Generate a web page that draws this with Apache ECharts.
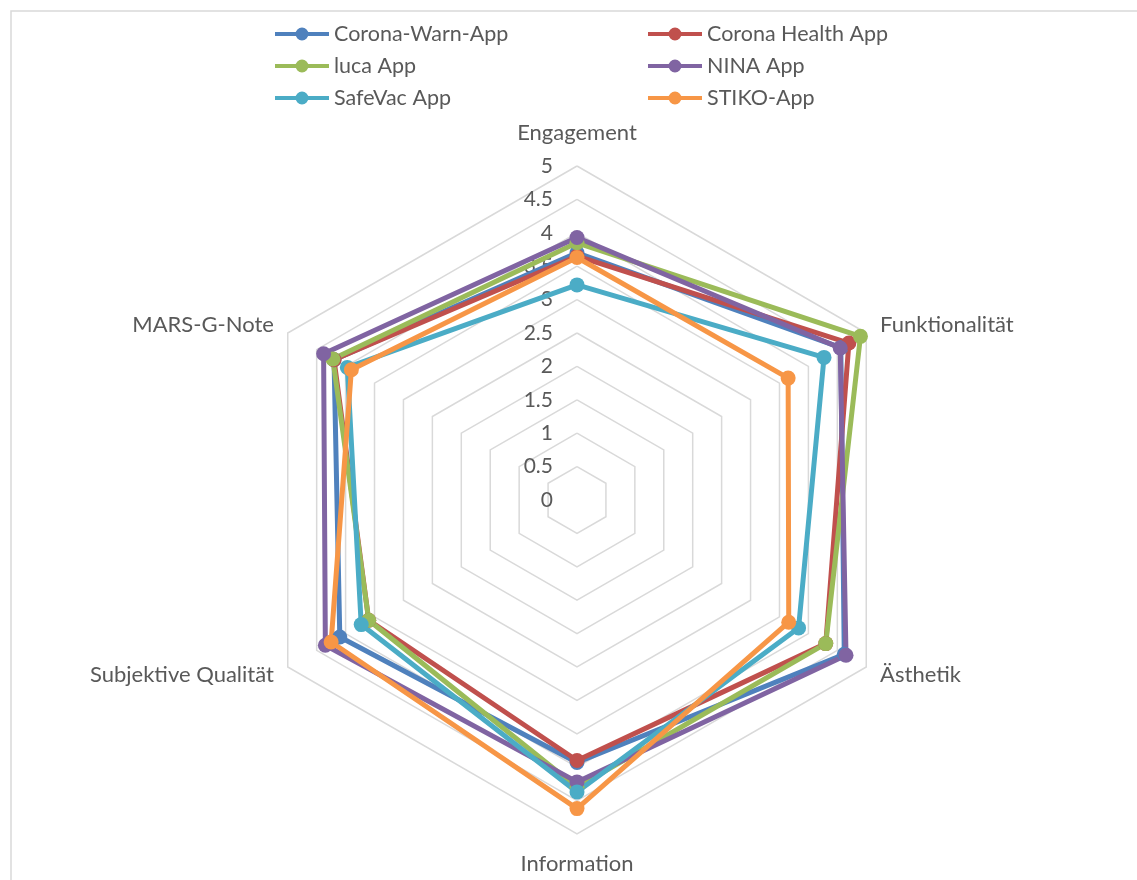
<!DOCTYPE html>
<html>
<head>
<meta charset="utf-8">
<script src="https://cdn.jsdelivr.net/npm/echarts@6/dist/echarts.min.js"></script>
<style>
  html, body { margin: 0; padding: 0; background: #ffffff; }
  #chart { width: 1137px; height: 880px; }
</style>
</head>
<body>
<div id="chart"></div>
<script>
// Categories in the reference's clockwise order, starting at the top
const categories = ['Engagement', 'Funktionalität', 'Ästhetik', 'Information', 'Subjektive Qualität', 'MARS-G-Note'];
// Radial axis scale (tick labels 0 … 5 in steps of 0.5)
const axisMin = 0;
const axisMax = 5;
const axisSplits = 10;

const seriesNames = ['Corona-Warn-App', 'Corona Health App', 'luca App', 'NINA App', 'SafeVac App', 'STIKO-App'];
const coronaWarnApp   = [3.70, 4.56, 4.62, 3.93, 4.10, 4.20];
const coronaHealthApp = [3.65, 4.70, 4.30, 3.90, 3.60, 4.20];
const lucaApp         = [3.85, 4.90, 4.30, 4.30, 3.60, 4.22];
const ninaApp         = [3.93, 4.55, 4.65, 4.22, 4.35, 4.38];
const safeVacApp      = [3.22, 4.27, 3.83, 4.37, 3.73, 3.97];
const stikoApp        = [3.63, 3.65, 3.66, 4.62, 4.25, 3.90];
const seriesValues = [coronaWarnApp, coronaHealthApp, lucaApp, ninaApp, safeVacApp, stikoApp];
const seriesColors = ['#4F81BD', '#C0504D', '#9BBB59', '#8064A2', '#4BACC6', '#F79646'];

// ECharts lays radar indicators out counter-clockwise; reorder to get the clockwise layout
const order = [0, 5, 4, 3, 2, 1];
const reorder = arr => order.map(i => arr[i]);

const FONT = 'Lato, "Open Sans", sans-serif';
const TEXT = '#595959';

// per-indicator gap between the outer ring and the category name
const nameGaps = { 'Engagement': 22, 'Information': 19 };

const indicators = reorder(categories).map((name, i) => {
  const ind = { name: name, min: axisMin, max: axisMax, nameGap: nameGaps[name] != null ? nameGaps[name] : 16 };
  if (i === 0) {
    ind.axisLabel = {
      show: true, color: TEXT, fontSize: 21, fontFamily: FONT, margin: 24,
      formatter: v => String(Math.round(v * 10) / 10)
    };
  }
  return ind;
});

// legend icon: a thick line with a round marker in the middle
const legendIcon = 'path://M0,4.5 L54,4.5 L54,8.5 L0,8.5 Z M20.5,6.5 A6.5,6.5 0 1,1 33.5,6.5 A6.5,6.5 0 1,1 20.5,6.5 Z';

const legendBase = {
  orient: 'vertical', top: 18,
  icon: legendIcon, itemWidth: 54, itemHeight: 13, itemGap: 10,
  itemStyle: { borderWidth: 0 },
  textStyle: { color: TEXT, fontSize: 21.5, fontFamily: FONT }
};

const chart = echarts.init(document.getElementById('chart'), null, { renderer: 'canvas' });
chart.setOption({
  backgroundColor: '#ffffff',
  animation: false,
  graphic: [{
    type: 'rect', silent: true, z: -10,
    shape: { x: 11, y: 11, width: 1300, height: 1000 },
    style: { fill: 'none', stroke: '#d9d9d9', lineWidth: 1.5 }
  }],
  legend: [
    Object.assign({}, legendBase, { left: 270, data: [seriesNames[0], seriesNames[2], seriesNames[4]] }),
    Object.assign({}, legendBase, { left: 643, data: [seriesNames[1], seriesNames[3], seriesNames[5]] })
  ],
  radar: {
    center: [577, 500],
    radius: 334,
    startAngle: 90,
    splitNumber: axisSplits,
    shape: 'polygon',
    indicator: indicators,
    axisName: { color: TEXT, fontSize: 22, fontFamily: FONT },
    nameGap: 16,
    axisLine: { show: false },
    axisTick: { show: false },
    axisLabel: { show: false },
    splitLine: { lineStyle: { color: '#d9d9d9', width: 1.5 } },
    splitArea: { show: false }
  },
  series: seriesNames.map((name, i) => ({
    type: 'radar',
    name: name,
    symbol: 'circle',
    symbolSize: 15,
    lineStyle: { color: seriesColors[i], width: 5 },
    itemStyle: { color: seriesColors[i], borderWidth: 0 },
    data: [{ name: name, value: reorder(seriesValues[i]) }]
  }))
});
</script>
</body>
</html>
